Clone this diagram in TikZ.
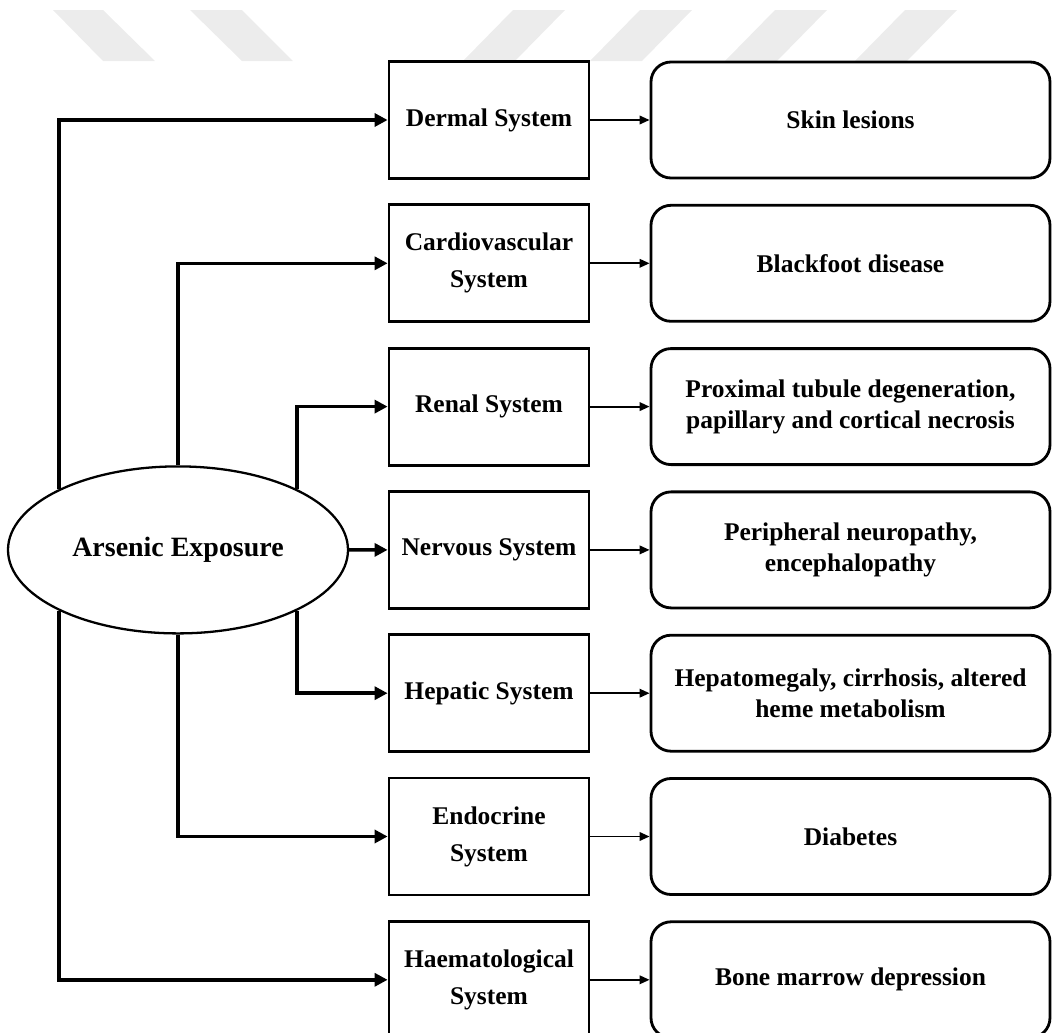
\documentclass[tikz,border=0pt]{standalone}
\usepackage{fontspec}
\setmainfont{Liberation Serif}
\usetikzlibrary{arrows.meta,shapes.geometric}

\begin{document}
\begin{tikzpicture}[
    sysbox/.style={draw, line width=1.6pt, minimum width=4.0cm, minimum height=2.34cm, inner sep=2pt, align=center, font=\fontsize{14.5}{21}\selectfont\bfseries},
    effbox/.style={draw, line width=1.6pt, rounded corners=0.4cm, minimum width=7.98cm, minimum height=2.32cm, inner sep=2pt, align=center, font=\fontsize{14.5}{17.6}\selectfont\bfseries},
    link/.style={-{Triangle[length=0.26cm,width=0.26cm]}, line width=2pt},
    thinlink/.style={-{Triangle[length=0.2cm,width=0.17cm]}, line width=1.1pt}]
\useasboundingbox (0,0) rectangle (21.06,-20.66);
% Draw faint stripes at the top
\fill[gray!15] (1.06,-0.2) -- (2.06,-0.2) -- (3.10,-1.22) -- (2.06,-1.22) -- cycle;
\fill[gray!15] (3.8,-0.2) -- (4.84,-0.2) -- (5.86,-1.22) -- (4.84,-1.22) -- cycle;
\foreach \x in {10.26,12.8,15.5,18.1}
    \fill[gray!15] (\x,-0.2) -- (\x+1.04,-0.2) -- (\x+0.04,-1.22) -- (\x-1,-1.22) -- cycle;
% Draw systems and effects
\foreach \i/\sys/\eff in {1/{Dermal System}/{Skin lesions},
        2/{Cardiovascular\\System}/{Blackfoot disease},
        3/{Renal System}/{Proximal tubule degeneration,\\papillary and cortical necrosis},
        4/{Nervous System}/{Peripheral neuropathy,\\encephalopathy},
        5/{Hepatic System}/{Hepatomegaly, cirrhosis, altered\\heme metabolism},
        6/{Endocrine\\System}/{Diabetes},
        7/{Haematological\\System}/{Bone marrow depression}}
{
    \node[sysbox] (sys\i) at (9.78,{-2.4-2.866*(\i-1)}) {\sys};
    \node[effbox] (eff\i) at (17.01,{-2.4-2.866*(\i-1)}) {\eff};
    \draw[thinlink] (sys\i.east) -- (eff\i.west);
}
% Draw the exposure ellipse
\node[draw, ellipse, line width=1.3pt, minimum width=6.8cm, minimum height=3.34cm, inner sep=0pt, font=\fontsize{15.9}{19}\selectfont\bfseries] (ae) at (3.56,-10.998) {Arsenic Exposure};
% Draw connectors
\draw[link] (ae.153.8) |- (sys1.west);
\draw[link] (ae.north) |- (sys2.west);
\draw[link] (ae.27.4) |- (sys3.west);
\draw[link] (ae.east) -- (sys4.west);
\draw[link] (ae.-27.4) |- (sys5.west);
\draw[link] (ae.south) |- (sys6.west);
\draw[link] (ae.-153.8) |- (sys7.west);
\end{tikzpicture}
\end{document}
